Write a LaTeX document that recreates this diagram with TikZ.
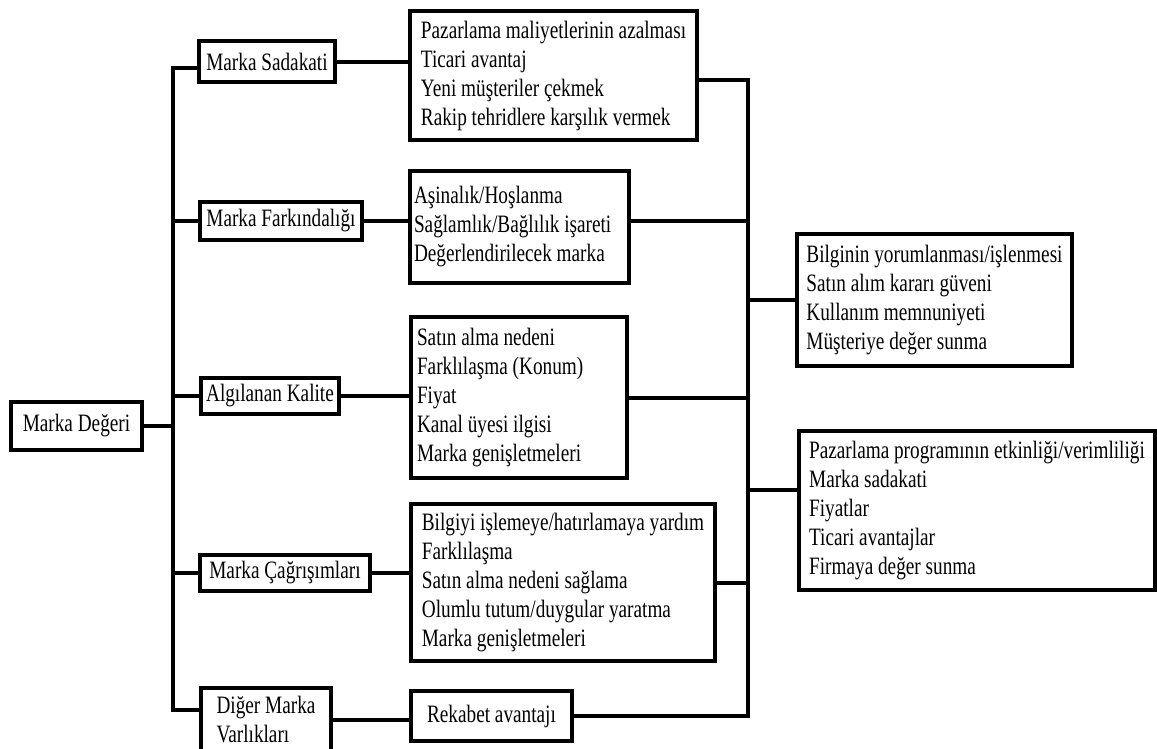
\documentclass[tikz,border=0pt]{standalone}
\usepackage{fontspec}
\setmainfont{Liberation Serif}[FakeStretch=0.77]

\begin{document}
\begin{tikzpicture}[x=1pt, y=-1pt,
        font=\fontsize{25}{29}\selectfont,
        kutu/.style={draw, line width=4pt, align=left, inner sep=0pt, anchor=north west},
        hat/.style={line width=4pt}]
        \useasboundingbox (0, 0) rectangle (1157, 748);

        \node[kutu, anchor=center, minimum width=131pt, minimum height=48pt] (deger) at (76.5, 426) {Marka Değeri};

        \node[kutu, anchor=center, minimum width=136pt, minimum height=41pt] (sadakat) at (267, 61.5) {Marka Sadakati};
        \node[kutu, anchor=center, minimum width=162pt, minimum height=38pt] (farkindalik) at (281, 221) {Marka Farkındalığı};
        \node[kutu, anchor=center, minimum width=138pt, minimum height=36pt] (kalite) at (270, 396) {Algılanan Kalite};
        \node[kutu, anchor=center, minimum width=170pt, minimum height=36pt] (cagrisim) at (285, 573) {Marka Çağrışımları};
        \node[kutu, anchor=north, minimum width=130pt, minimum height=64pt] (diger) at (266, 686) {Diğer Marka\\Varlıkları};

        \node[kutu, minimum width=287pt, minimum height=129pt] (k1) at (408, 9) {Pazarlama maliyetlerinin azalması\\Ticari avantaj\\Yeni müşteriler çekmek\\Rakip tehridlere karşılık vermek};
        \node[kutu, align=flush left, minimum width=219pt, minimum height=112pt, text width=211pt] (k2) at (408, 169) {Aşinalık/Hoşlanma\\Sağlamlık/Bağlılık işareti\\Değerlendirilecek marka};
        \node[kutu, align=flush left, minimum width=216pt, minimum height=161pt, text width=204pt] (k3) at (409, 315) {Satın alma nedeni\\Farklılaşma (Konum)\\Fiyat\\Kanal üyesi ilgisi\\Marka genişletmeleri};
        \node[kutu, minimum width=304pt, minimum height=157pt] (k4) at (409, 502) {Bilgiyi işlemeye/hatırlamaya yardım\\Farklılaşma\\Satın alma nedeni sağlama\\Olumlu tutum/duygular yaratma\\Marka genişletmeleri};
        \node[kutu, minimum width=161pt, minimum height=50pt] (k5) at (409, 689) {Rekabet avantajı};

        \node[kutu, minimum width=275pt, minimum height=132pt] (r1) at (795, 232) {Bilginin yorumlanması/işlenmesi\\Satın alım kararı güveni\\Kullanım memnuniyeti\\Müşteriye değer sunma};
        \node[kutu, minimum width=356pt, minimum height=159pt] (r2) at (797, 429) {Pazarlama programının etkinliği/verimliliği\\Marka sadakati\\Fiyatlar\\Ticari avantajlar\\Firmaya değer sunma};

        \coordinate (govde) at (173, 0);
        \coordinate (sag) at (748, 0);
        \coordinate (d1) at ([yshift=10pt]diger.west);
        \coordinate (s1) at ([yshift=-6.5pt]sadakat.west);
        \coordinate (e1) at ([yshift=-4.5pt]k1.east);
        \coordinate (r2b) at ([yshift=21pt]r2.west);

        \draw[hat] (deger) -- (deger -| govde);
        \draw[hat] (s1) -| (govde |- d1) -- (d1);
        \draw[hat] (govde |- farkindalik) -- (farkindalik);
        \draw[hat] (govde |- kalite) -- (kalite);
        \draw[hat] (govde |- cagrisim) -- (cagrisim);

        \draw[hat] (sadakat) -- (sadakat -| k1.west);
        \draw[hat] (farkindalik) -- (farkindalik -| k2.west);
        \draw[hat] (kalite) -- (kalite -| k3.west);
        \draw[hat] (cagrisim) -- (cagrisim -| k4.west);
        \draw[hat] (diger) -- (diger -| k5.west);

        \draw[hat] (e1) -| (sag |- k5.east) -- (k5.east);
        \draw[hat] (k2.east |- farkindalik) -- (sag |- farkindalik);
        \draw[hat] (k3) -- (k3 -| sag);
        \draw[hat] (k4) -- (k4 -| sag);
        \draw[hat] (sag |- r1) -- (r1);
        \draw[hat] (sag |- r2b) -- (r2b);
    \end{tikzpicture}
\end{document}
